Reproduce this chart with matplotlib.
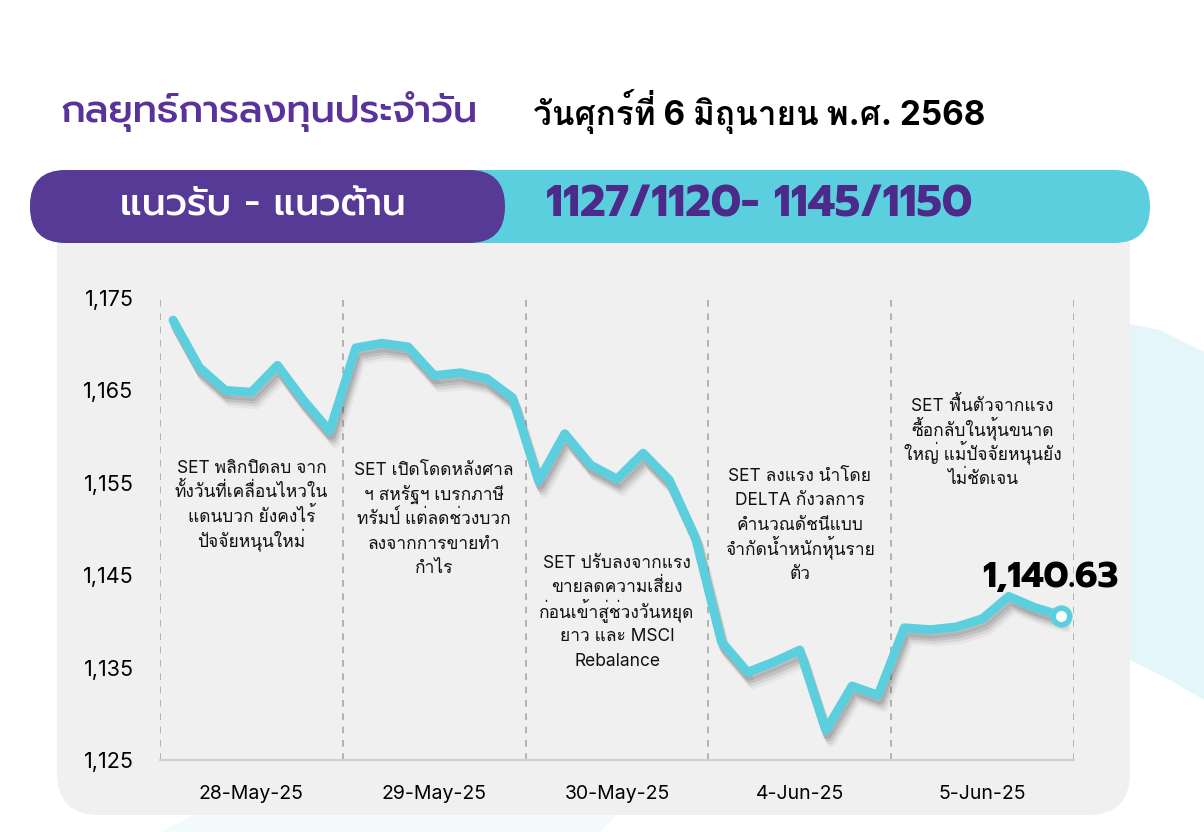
import matplotlib
matplotlib.use("Agg")
import matplotlib.pyplot as plt
import matplotlib.patheffects as pe
from matplotlib.patches import FancyBboxPatch, Polygon

plt.rcParams['font.family'] = ['Inter', 'Loma', 'DejaVu Sans']
# Prompt for the headline pieces; Loma keeps stacked Thai tone marks readable
head_font = ['Prompt', 'Kanit', 'DejaVu Sans']
body_font = ['Inter', 'Loma', 'DejaVu Sans']

# SET index, 7 readings per session
days = ['28-May-25', '29-May-25', '30-May-25', '4-Jun-25', '5-Jun-25']
set_index = [
    1172.6, 1167.5, 1165.0, 1164.8, 1167.7, 1163.9, 1160.6,
    1169.6, 1170.1, 1169.7, 1166.6, 1166.9, 1166.3, 1164.2,
    1155.2, 1160.3, 1156.9, 1155.4, 1158.2, 1155.3, 1149.1,
    1137.8, 1134.5, 1135.6, 1136.9, 1128.2, 1133.0, 1132.0,
    1139.3, 1139.1, 1139.4, 1140.3, 1142.7, 1141.5, 1140.63,
]
yticks = [1125, 1135, 1145, 1155, 1165, 1175]
notes = [
    'SET พลิกปิดลบ จาก\nทั้งวันที่เคลื่อนไหวใน\nแดนบวก ยังคงไร้\nปัจจัยหนุนใหม่',
    'SET เปิดโดดหลังศาล\nฯ สหรัฐฯ เบรกภาษี\nทรัมป์ แต่ลดช่วงบวก\nลงจากการขายทำ\nกำไร',
    'SET ปรับลงจากแรง\nขายลดความเสี่ยง\nก่อนเข้าสู่ช่วงวันหยุด\nยาว และ MSCI\nRebalance',
    'SET ลงแรง นำโดย\nDELTA กังวลการ\nคำนวณดัชนีแบบ\nจำกัดน้ำหนักหุ้นราย\nตัว',
    'SET ฟื้นตัวจากแรง\nซื้อกลับในหุ้นขนาด\nใหญ่ แม้ปัจจัยหนุนยัง\nไม่ชัดเจน',
]
note_top = [1156.1, 1155.8, 1145.8, 1155.2, 1162.8]  # first baseline of each note
title = 'กลยุทธ์การลงทุนประจำวัน'
date_text = 'วันศุกร์ที่ 6 มิถุนายน พ.ศ. 2568'
band_label = 'แนวรับ - แนวต้าน'
band_value = '1127/1120- 1145/1150'

purple = '#563a96'
cyan = '#5ccfdf'
W, H = 1204, 832

fig = plt.figure(figsize=(W / 100, H / 100), dpi=100)
fig.patch.set_facecolor('white')

# background layer in pixel coords
bg = fig.add_axes([0, 0, 1, 1])
bg.set_xlim(0, W)
bg.set_ylim(H, 0)
bg.axis('off')

# light decorative shapes
bg.add_patch(Polygon([(1100, 318), (1160, 330), (1204, 352), (1204, 700),
                      (1170, 680), (1130, 660), (1100, 650)],
                     closed=True, fc='#e4f6f9', ec='none', zorder=0))
bg.add_patch(Polygon([(160, 832), (200, 812), (620, 812), (600, 832)],
                     closed=True, fc='#f4fbfc', ec='none', zorder=0))

# grey panel
bg.add_patch(FancyBboxPatch((57, 200), 1073, 615,
                            boxstyle='round,pad=0,rounding_size=42',
                            fc='#f0f0f0', ec='none', zorder=1))

# support / resistance band
bg.add_patch(FancyBboxPatch((30, 170), 1120, 73,
                            boxstyle='round,pad=0,rounding_size=36',
                            fc=cyan, ec='none', zorder=2))
bg.add_patch(FancyBboxPatch((30, 170), 475, 73,
                            boxstyle='round,pad=0,rounding_size=36',
                            fc=purple, ec='none', zorder=3))

bg.text(61, 112, title, color='#59329a', fontsize=27.5, fontweight='medium',
        family=head_font, va='center', ha='left', zorder=5)
bg.text(533, 112, date_text, color='black', fontsize=24, fontweight='bold',
        family=body_font, va='center', ha='left', zorder=5)
bg.text(263, 206, band_label, color='white', fontsize=27, fontweight='medium',
        family=head_font, va='center', ha='center', zorder=5)
bg.text(759, 205, band_value, color='#4b2a8a', fontsize=31.5, fontweight='bold',
        family=head_font, va='center', ha='center', zorder=5)

# chart area
L, R, T, B = 160, 1074, 298, 760
ax = fig.add_axes([L / W, 1 - B / H, (R - L) / W, (B - T) / H])
ax.patch.set_alpha(0)

x = list(range(len(set_index)))
n_per_day = 7
ax.set_xlim(-0.5, len(set_index) - 0.5)
ax.set_ylim(1125, 1175)

for k in range(len(days) + 1):
    ax.axvline(k * n_per_day - 0.5, color='#a8a8a8', lw=1.2,
               ls=(0, (4, 4)), zorder=1)

# soft drop shadow under the line
shadow = [pe.SimpleLineShadow(offset=(1, -3), shadow_color='#3a3a3a', alpha=0.16),
          pe.SimpleLineShadow(offset=(2, -5), shadow_color='#3a3a3a', alpha=0.13),
          pe.SimpleLineShadow(offset=(3, -7), shadow_color='#3a3a3a', alpha=0.09),
          pe.SimpleLineShadow(offset=(4, -9), shadow_color='#3a3a3a', alpha=0.05),
          pe.Normal()]
ax.plot(x, set_index, color=cyan, lw=6.5, solid_joinstyle='round',
        solid_capstyle='round', zorder=3, path_effects=shadow)
ax.plot(x[-1], set_index[-1], 'o', ms=12, mfc='white', mec=cyan, mew=4, zorder=4)
ax.text(x[-1] - 0.4, set_index[-1] + 4.1, f'{set_index[-1]:,.2f}',
        fontsize=26, fontweight='bold', family=head_font,
        ha='center', va='center', zorder=5)

# notes: one line at a time so the spacing stays even
line_step = 17.6  # points
for k, (txt, y0) in enumerate(zip(notes, note_top)):
    for i, line in enumerate(txt.split('\n')):
        ax.annotate(line, xy=(k * n_per_day + 3, y0), xytext=(0, -i * line_step),
                    textcoords='offset points', ha='center', va='baseline',
                    fontsize=12.5, color='#111111', zorder=2)

ax.set_yticks(yticks)
ax.set_yticklabels([f'{v:,}' for v in yticks], fontsize=15.5)
ax.set_xticks([k * n_per_day + 3 for k in range(len(days))])
ax.set_xticklabels(days, fontsize=14)
ax.tick_params(axis='y', length=0, pad=19)
ax.tick_params(axis='x', length=0, pad=18)
for s in ['top', 'right', 'left']:
    ax.spines[s].set_visible(False)
ax.spines['bottom'].set_color('#d0d0d0')
ax.spines['bottom'].set_linewidth(1.5)

fig.savefig('out.png', dpi=100)
